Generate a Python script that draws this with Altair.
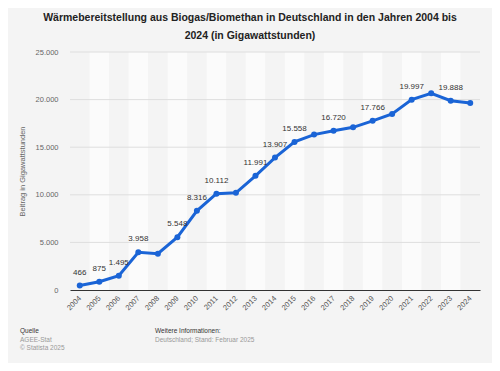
import altair as alt
import pandas as pd

years = list(range(2004, 2025))
values = [466, 875, 1495, 3958, 3816, 5548, 8316, 10112, 10210, 11991, 13907,
          15558, 16324, 16720, 17090, 17766, 18495, 19997, 20655, 19888, 19650]
label_years = [2004, 2005, 2006, 2007, 2009, 2010, 2011, 2013, 2014, 2015,
               2017, 2019, 2021, 2023]
y_ticks = [0, 5000, 10000, 15000, 20000, 25000]
band_years = [y for y in years if y % 2 == 1]

df = pd.DataFrame({"year": years, "value": values})
df["show"] = df["year"].isin(label_years)
bands = pd.DataFrame({"year": band_years})
grid = pd.DataFrame({"v": y_ticks[1:]})

W, H = 410, 238
FONT = "Liberation Sans"
BLUE = "#1a64d6"

xscale = alt.Scale(domain=[2003.5, 2024.5], nice=False, zero=False)
yscale = alt.Scale(domain=[0, 25000], nice=False)

x_axis = alt.Axis(values=years, format="d", labelAngle=-45, labelAlign="right",
                  labelBaseline="middle", labelFont=FONT, labelFontSize=7.5,
                  labelColor="#555", ticks=False, domain=True, domainColor="#333",
                  domainWidth=1, grid=False, title=None, labelPadding=7,
                  labelOverlap=False, labelFlush=False, labelBound=False)
y_axis = alt.Axis(values=y_ticks, labelExpr="replace(format(datum.value, ','), ',', '.')",
                  labelFont=FONT, labelFontSize=7.5, labelColor="#666", ticks=False,
                  domain=False, grid=False, title="Beitrag in Gigawattstunden",
                  titleFont=FONT, titleFontSize=7.5, titleFontWeight="normal",
                  titleColor="#666", titlePadding=9, labelPadding=12)

band_layer = alt.Chart(bands).mark_rect(color="#ffffff", opacity=0.6).encode(
    x=alt.X("x0:Q", scale=xscale, axis=x_axis),
    x2="x1:Q",
    y=alt.value(0),
    y2=alt.value(H),
).transform_calculate(x0="datum.year - 0.5", x1="datum.year + 0.5")

grid_layer = alt.Chart(grid).mark_rule(color="#dedede", strokeWidth=1).encode(
    y=alt.Y("v:Q", scale=yscale, axis=y_axis),
)

base = alt.Chart(df).encode(
    x=alt.X("year:Q", scale=xscale, axis=x_axis),
    y=alt.Y("value:Q", scale=yscale, axis=y_axis),
)
line = base.mark_line(color=BLUE, strokeWidth=3)
pts = base.mark_circle(color=BLUE, size=36, opacity=1)
labels = base.transform_filter("datum.show").transform_calculate(
    lab="replace(format(datum.value, ','), ',', '.')"
).mark_text(dy=-13, font=FONT, fontSize=8, color="#333").encode(text="lab:N")

def foot(text, x, y, color="#999", weight="normal"):
    return alt.Chart(pd.DataFrame({"t": [text]})).mark_text(
        align="left", baseline="middle", font=FONT, fontSize=6.5,
        color=color, fontWeight=weight
    ).encode(text="t:N", x=alt.value(x), y=alt.value(y))

footer = [
    foot("Quelle", -50, 279, "#333"),
    foot("AGEE-Stat", -50, 288),
    foot("© Statista 2025", -50, 296),
    foot("Weitere Informationen:", 85, 279, "#333"),
    foot("Deutschland; Stand: Februar 2025", 85, 288),
]

chart = alt.layer(band_layer, grid_layer, line, pts, labels, *footer).properties(
    width=W, height=H,
    title=alt.TitleParams(
        ["Wärmebereitstellung aus Biogas/Biomethan in Deutschland in den Jahren 2004 bis",
         "2024 (in Gigawattstunden)"],
        font=FONT, fontSize=10.5, fontWeight="bold", color="#222",
        anchor="middle", dx=-25, offset=7, lineHeight=18,
    ),
    background="#f4f4f4",
    padding={"left": 62, "top": 44, "right": 12, "bottom": 73},
    autosize=alt.AutoSizeParams(type="none"),
).configure_view(stroke=None)

chart.save("out.html", embed_options={"renderer": "svg", "actions": False})
